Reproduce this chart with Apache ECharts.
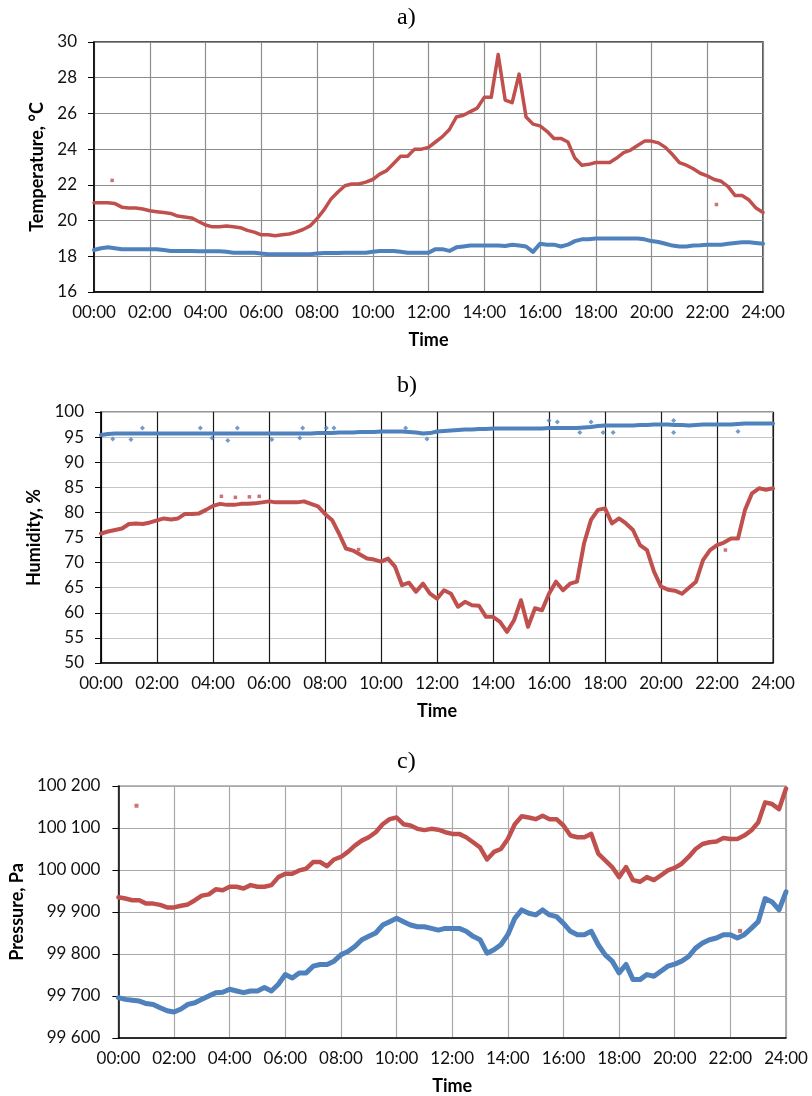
<!DOCTYPE html>
<html>
<head>
<meta charset="utf-8">
<script src="https://cdn.jsdelivr.net/npm/echarts@6/dist/echarts.min.js"></script>
<style>
  html, body { margin: 0; padding: 0; background: #fff; }
  #chart { width: 812px; height: 1096px; }
</style>
</head>
<body>
<div id="chart"></div>
<script>
// Sampling step of every series below: one reading each 15 minutes, 00:00 to 24:00.
const STEP_HOURS = 0.25;
const timeTicks = ['00:00','02:00','04:00','06:00','08:00','10:00','12:00','14:00','16:00','18:00','20:00','22:00','24:00'];

// a) Temperature, °C
const tempRed = [
  21.0, 21.0, 21.0, 20.95, 20.75, 20.7, 20.7, 20.65,
  20.55, 20.5, 20.45, 20.4, 20.25, 20.2, 20.15, 19.95,
  19.75, 19.65, 19.65, 19.7, 19.65, 19.6, 19.45, 19.35,
  19.2, 19.2, 19.15, 19.2, 19.25, 19.35, 19.5, 19.7,
  20.1, 20.6, 21.2, 21.6, 21.95, 22.05, 22.05, 22.15,
  22.3, 22.6, 22.8, 23.2, 23.6, 23.6, 24.0, 24.0,
  24.1, 24.4, 24.7, 25.1, 25.8, 25.9, 26.1, 26.3,
  26.9, 26.9, 29.3, 26.75, 26.6, 28.2, 25.8, 25.4,
  25.3, 25.0, 24.6, 24.6, 24.4, 23.5, 23.1, 23.15,
  23.25, 23.25, 23.25, 23.5, 23.8, 23.95, 24.2, 24.45,
  24.45, 24.35, 24.1, 23.7, 23.25, 23.1, 22.9, 22.65,
  22.5, 22.3, 22.2, 21.9, 21.4, 21.4, 21.15, 20.7,
  20.45
];
const tempBlue = [
  18.35, 18.45, 18.5, 18.45, 18.4, 18.4, 18.4, 18.4,
  18.4, 18.4, 18.35, 18.3, 18.3, 18.3, 18.3, 18.28,
  18.28, 18.28, 18.28, 18.25, 18.2, 18.2, 18.2, 18.2,
  18.15, 18.12, 18.12, 18.12, 18.12, 18.12, 18.12, 18.12,
  18.15, 18.18, 18.18, 18.18, 18.2, 18.2, 18.2, 18.2,
  18.25, 18.3, 18.3, 18.3, 18.25, 18.2, 18.2, 18.2,
  18.2, 18.4, 18.4, 18.3, 18.5, 18.55, 18.6, 18.6,
  18.6, 18.6, 18.6, 18.58, 18.65, 18.6, 18.55, 18.25,
  18.7, 18.65, 18.65, 18.55, 18.65, 18.85, 18.95, 18.95,
  19.0, 19.0, 19.0, 19.0, 19.0, 19.0, 19.0, 18.95,
  18.85, 18.8, 18.7, 18.6, 18.55, 18.55, 18.6, 18.62,
  18.65, 18.65, 18.65, 18.7, 18.75, 18.78, 18.78, 18.75,
  18.7
];
const tempRedStray = [[0.65, 22.25], [22.33, 20.9]];

// b) Humidity, %
const humRed = [
  75.8, 76.2, 76.5, 76.8, 77.7, 77.8, 77.7, 78.0,
  78.4, 78.8, 78.6, 78.8, 79.7, 79.7, 79.8, 80.5,
  81.3, 81.7, 81.5, 81.5, 81.7, 81.7, 81.8, 82.0,
  82.2, 82.0, 82.0, 82.0, 82.0, 82.2, 81.7, 81.2,
  79.7, 78.5, 75.8, 72.8, 72.4, 71.6, 70.8, 70.6,
  70.2, 70.8, 69.2, 65.5, 66.0, 64.2, 65.8, 63.8,
  62.8, 64.5, 63.8, 61.2, 62.2, 61.5, 61.4, 59.2,
  59.2, 58.2, 56.2, 58.5, 62.5, 57.2, 60.9, 60.5,
  63.8, 66.2, 64.5, 65.8, 66.2, 73.8, 78.5, 80.5,
  80.8, 77.8, 78.8, 77.8, 76.5, 73.5, 72.5, 68.2,
  65.2, 64.6, 64.4, 63.8, 65.0, 66.2, 70.5, 72.5,
  73.5, 74.0, 74.8, 74.8, 80.5, 83.8, 84.8, 84.5,
  84.8
];
const humBlue = [
  95.4, 95.6, 95.7, 95.7, 95.7, 95.7, 95.7, 95.7,
  95.7, 95.7, 95.7, 95.7, 95.7, 95.7, 95.7, 95.7,
  95.7, 95.7, 95.7, 95.7, 95.7, 95.7, 95.7, 95.7,
  95.7, 95.7, 95.7, 95.7, 95.7, 95.7, 95.7, 95.8,
  95.8, 95.8, 95.9, 95.9, 95.9, 96.0, 96.0, 96.0,
  96.1, 96.1, 96.1, 96.1, 96.0, 95.9, 95.7, 95.8,
  96.1, 96.2, 96.3, 96.4, 96.5, 96.5, 96.6, 96.6,
  96.7, 96.7, 96.7, 96.7, 96.7, 96.7, 96.7, 96.7,
  96.8, 96.8, 96.8, 96.8, 96.8, 96.9, 97.0, 97.2,
  97.3, 97.3, 97.3, 97.3, 97.3, 97.4, 97.4, 97.5,
  97.5, 97.5, 97.4, 97.4, 97.3, 97.4, 97.5, 97.5,
  97.5, 97.5, 97.5, 97.6, 97.7, 97.7, 97.7, 97.7,
  97.7
];
const humBlueStray = [
  [0.42, 94.6], [1.07, 94.5], [1.48, 96.8], [3.55, 96.8], [3.97, 94.8],
  [4.53, 94.3], [4.87, 96.8], [6.1, 94.5], [7.1, 94.8], [7.2, 96.8],
  [8.05, 96.8], [8.32, 96.8], [10.88, 96.8], [11.64, 94.6], [16.0, 98.3],
  [16.3, 98.0], [17.1, 95.9], [17.5, 98.0], [17.93, 95.9], [18.29, 95.9],
  [20.45, 98.3], [20.45, 95.9], [22.75, 96.1]
];
const humRedStray = [[4.3, 83.2], [4.8, 83.0], [5.3, 83.1], [5.65, 83.2], [9.2, 72.6], [22.3, 72.5]];

// c) Pressure, Pa
const presRed = [
  99935, 99932, 99928, 99928, 99920, 99920, 99917, 99911,
  99911, 99915, 99918, 99928, 99939, 99942, 99954, 99952,
  99960, 99960, 99956, 99964, 99960, 99960, 99964, 99983,
  99991, 99991, 99999, 100003, 100019, 100019, 100009, 100025,
  100031, 100043, 100058, 100070, 100078, 100090, 100109, 100121,
  100125, 100109, 100106, 100098, 100095, 100098, 100096, 100090,
  100086, 100086, 100078, 100066, 100054, 100025, 100043, 100050,
  100074, 100109, 100128, 100125, 100121, 100129, 100121, 100121,
  100106, 100082, 100078, 100078, 100086, 100039, 100023, 100007,
  99983, 100007, 99976, 99972, 99983, 99976, 99987, 99999,
  100005, 100015, 100031, 100050, 100062, 100066, 100068, 100076,
  100074, 100074, 100082, 100094, 100113, 100161, 100157, 100145,
  100194
];
const presBlue = [
  99696, 99692, 99690, 99688, 99682, 99680, 99672, 99665,
  99662, 99669, 99680, 99684, 99692, 99700, 99708, 99709,
  99716, 99712, 99708, 99712, 99712, 99720, 99712, 99728,
  99751, 99743, 99755, 99755, 99771, 99775, 99775, 99783,
  99798, 99806, 99818, 99834, 99842, 99850, 99869, 99877,
  99885, 99877, 99869, 99865, 99865, 99861, 99857, 99861,
  99861, 99861, 99854, 99842, 99834, 99802, 99810, 99822,
  99846, 99885, 99905, 99897, 99893, 99905, 99893, 99889,
  99873, 99854, 99846, 99846, 99854, 99822, 99798, 99783,
  99755, 99775, 99739, 99739, 99751, 99747, 99759, 99771,
  99776, 99783, 99794, 99814, 99826, 99834, 99838, 99846,
  99846, 99838, 99846, 99861, 99877, 99932, 99924, 99905,
  99948
];
const presRedStray = [[0.65, 100153], [22.35, 99855]];

const RED = '#C0504D';
const BLUE = '#4F81BD';
const TICK_FONT = 'Lato, "Open Sans", sans-serif';

function toPoints(values) {
  return values.map((v, i) => [i * STEP_HOURS, v]);
}

function spaced(v) {
  return String(v).replace(/\B(?=(\d{3})+(?!\d))/g, ' ');
}

function xAxisFor(gridIndex, gridColor) {
  return {
    type: 'value', gridIndex, min: 0, max: 24, interval: 2,
    name: 'Time', nameLocation: 'middle', nameGap: 39,
    nameTextStyle: { fontFamily: TICK_FONT, fontWeight: 'bold', fontSize: 18, color: '#000' },
    axisLine: { show: true, onZero: false, lineStyle: { color: '#000', width: 1.5 } },
    axisTick: { show: false },
    axisLabel: {
      fontFamily: TICK_FONT, fontSize: 17, color: '#111', margin: 12,
      formatter: v => timeTicks[Math.round(v / 2)]
    },
    splitLine: { show: true, lineStyle: { color: gridColor, width: 1.2 } }
  };
}

function yAxisFor(gridIndex, opts) {
  return {
    type: 'value', gridIndex, min: opts.min, max: opts.max, interval: opts.interval,
    name: opts.name, nameLocation: 'middle', nameGap: opts.nameGap, nameRotate: 90,
    nameTextStyle: { fontFamily: TICK_FONT, fontWeight: 'bold', fontSize: 18, color: '#000' },
    axisLine: { show: true, lineStyle: { color: '#000', width: 1.5 } },
    axisTick: { show: true, length: 6, lineStyle: { color: '#000' } },
    axisLabel: {
      fontFamily: TICK_FONT, fontSize: 17, color: '#111', margin: opts.labelMargin,
      formatter: opts.formatter
    },
    splitLine: { show: true, lineStyle: { color: opts.gridColor, width: 1.2 } }
  };
}

function trace(values, color, axis, width) {
  return {
    type: 'line', xAxisIndex: axis, yAxisIndex: axis,
    data: toPoints(values), showSymbol: false, symbol: 'none', silent: true,
    lineStyle: { color, width, join: 'round', cap: 'round' }
  };
}

function stray(points, color, axis, shape, size) {
  return {
    type: 'scatter', xAxisIndex: axis, yAxisIndex: axis, data: points, silent: true,
    symbol: shape, symbolSize: size, itemStyle: { color }
  };
}

function panelLabel(text, x, y) {
  return {
    type: 'text', left: x, top: y,
    style: { text, font: '24px "Liberation Serif", "Times New Roman", serif', fill: '#000' }
  };
}

const chart = echarts.init(document.getElementById('chart'), null, { renderer: 'canvas' });
chart.setOption({
  animation: false,
  backgroundColor: '#fff',
  graphic: [
    panelLabel('a)', 397, 6),
    panelLabel('b)', 397, 374),
    panelLabel('c)', 397, 750)
  ],
  grid: [
    { left: 94, top: 42, width: 669, height: 250, show: true, borderColor: '#222', borderWidth: 1.5, backgroundColor: 'transparent' },
    { left: 101, top: 412, width: 672, height: 251, show: true, borderColor: '#333', borderWidth: 1.2, backgroundColor: 'transparent' },
    { left: 107, top: 786, width: 679, height: 254, show: true, borderColor: '#777', borderWidth: 1.2, backgroundColor: 'transparent' }
  ],
  xAxis: [
    xAxisFor(0, '#8c8c8c'),
    xAxisFor(1, '#1a1a1a'),
    xAxisFor(2, '#a8a8a8')
  ],
  yAxis: [
    yAxisFor(0, { min: 16, max: 30, interval: 2, name: 'Temperature, °C', nameGap: 41, labelMargin: 17, gridColor: '#8c8c8c' }),
    yAxisFor(1, { min: 50, max: 100, interval: 5, name: 'Humidity, %', nameGap: 48, labelMargin: 17, gridColor: '#c4c4c4' }),
    yAxisFor(2, { min: 99600, max: 100200, interval: 100, name: 'Pressure, Pa', nameGap: 84, labelMargin: 18, gridColor: '#a8a8a8', formatter: spaced })
  ],
  series: [
    trace(tempBlue, BLUE, 0, 4),
    trace(tempRed, RED, 0, 3.5),
    stray(tempRedStray, RED, 0, 'rect', 3.5),

    trace(humBlue, BLUE, 1, 4),
    stray(humBlueStray, BLUE, 1, 'diamond', 5),
    trace(humRed, RED, 1, 4),
    stray(humRedStray, RED, 1, 'rect', 3.5),

    trace(presBlue, BLUE, 2, 5),
    trace(presRed, RED, 2, 4.5),
    stray(presRedStray, RED, 2, 'rect', 4)
  ]
});
</script>
</body>
</html>
